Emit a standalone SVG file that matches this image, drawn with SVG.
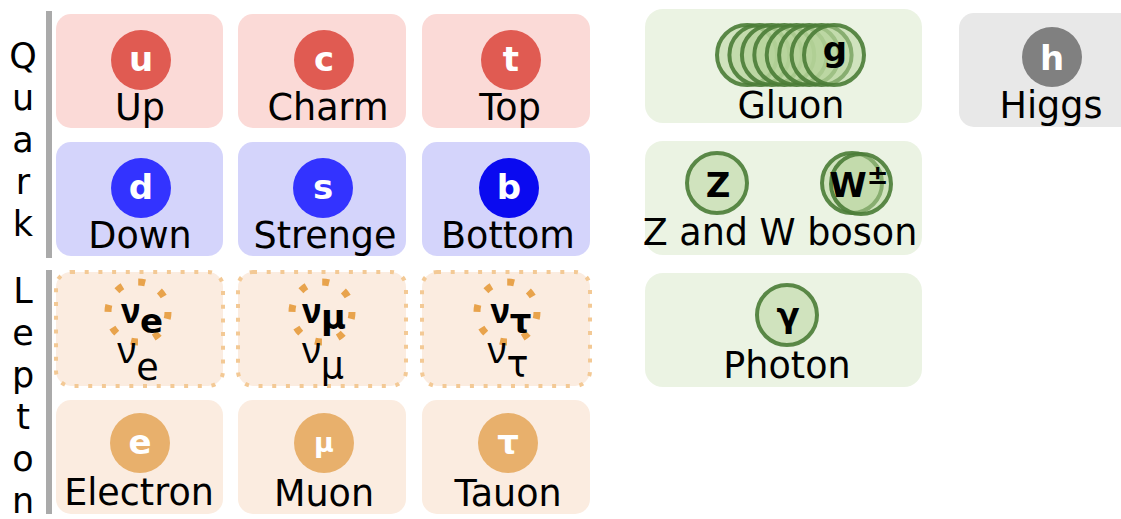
<svg xmlns="http://www.w3.org/2000/svg" width="1121" height="519" viewBox="0 0 1121 519">
<style>
text{font-family:"DejaVu Sans","Liberation Sans",sans-serif;fill:#000}
.lbl{font-size:36.5px;text-anchor:middle}
.sym{font-size:34px;font-weight:bold;text-anchor:middle;fill:#fff}
.bsym{font-size:34px;font-weight:bold;text-anchor:middle;fill:#000}
tspan.nu{font-family:"Noto Sans","Open Sans",sans-serif}
.side{font-size:35px;text-anchor:middle}
.up{fill:#fbdad7}
.down{fill:#d4d4fb}
.lep{fill:#fbece0}
.neu{fill:#fbece0;stroke:#f3c995;stroke-width:4;stroke-dasharray:4 9.7}
.bos{fill:#ebf3e3}
.hig{fill:#e8e8e8}
.cu{fill:#e05b52}
.cd{fill:#3333ff}
.cl{fill:#e8b06c}
.gc{fill:#b5d49a;fill-opacity:.5;stroke:#4a7c36;stroke-opacity:.9;stroke-width:4}
.ring{fill:none;stroke:#e8a34c;stroke-width:7;stroke-dasharray:7 16.56}
.bar{fill:#aaaaaa}
</style>
<g id="axis">
<rect class="bar" x="46" y="11" width="6" height="247"/>
<rect class="bar" x="46" y="270" width="6" height="244"/>
<text class="side" x="23" y="68">Q</text>
<text class="side" x="23" y="110">u</text>
<text class="side" x="23" y="152">a</text>
<text class="side" x="23" y="194">r</text>
<text class="side" x="23" y="236">k</text>
<text class="side" x="23" y="303">L</text>
<text class="side" x="23" y="345">e</text>
<text class="side" x="23" y="387">p</text>
<text class="side" x="23" y="429">t</text>
<text class="side" x="23" y="471">o</text>
<text class="side" x="23" y="513">n</text>
</g>
<g id="up"><rect class="up" x="56" y="14" width="167" height="114" rx="15"/><circle class="cu" cx="141" cy="60" r="30"/><text class="sym" x="141" y="71">u</text><text class="lbl" x="140" y="120">Up</text></g>
<g id="charm"><rect class="up" x="238" y="14" width="168" height="114" rx="15"/><circle class="cu" cx="324" cy="60" r="30"/><text class="sym" x="324" y="71">c</text><text class="lbl" x="328" y="120">Charm</text></g>
<g id="top"><rect class="up" x="422" y="14" width="168" height="114" rx="15"/><circle class="cu" cx="511" cy="60" r="30"/><text class="sym" x="511" y="71">t</text><text class="lbl" x="510" y="120">Top</text></g>
<g id="down"><rect class="down" x="56" y="142" width="167" height="114" rx="15"/><circle class="cd" cx="141" cy="188" r="30"/><text class="sym" x="141" y="199">d</text><text class="lbl" x="140" y="248">Down</text></g>
<g id="strange"><rect class="down" x="238" y="142" width="168" height="114" rx="15"/><circle class="cd" cx="323" cy="188" r="30"/><text class="sym" x="323" y="199">s</text><text class="lbl" x="325" y="248">Strenge</text></g>
<g id="bottom"><rect class="down" x="422" y="142" width="168" height="114" rx="15"/><circle cx="509" cy="188" r="30" fill="#0a0af0"/><text class="sym" x="509" y="199">b</text><text class="lbl" x="508" y="248">Bottom</text></g>
<g id="nu_e"><rect class="neu" x="56" y="272" width="167" height="114" rx="15"/><circle class="ring" cx="138" cy="312" r="30"/><text class="bsym" x="142" y="323"><tspan class="nu">ν</tspan><tspan dy="10">e</tspan></text><text class="lbl" x="138" y="363"><tspan class="nu">ν</tspan><tspan dy="17">e</tspan></text></g>
<g id="nu_mu"><rect class="neu" x="238" y="272" width="168" height="114" rx="15"/><circle class="ring" cx="322" cy="312" r="30"/><text class="bsym" x="324" y="323"><tspan class="nu">ν</tspan><tspan dy="6">μ</tspan></text><text class="lbl" x="323" y="363"><tspan class="nu">ν</tspan><tspan dy="15">μ</tspan></text></g>
<g id="nu_tau"><rect class="neu" x="422" y="272" width="168" height="114" rx="15"/><circle class="ring" cx="507" cy="312" r="30"/><text class="bsym" x="511" y="323"><tspan class="nu">ν</tspan><tspan dy="10">τ</tspan></text><text class="lbl" x="508" y="363"><tspan class="nu">ν</tspan><tspan dy="14">τ</tspan></text></g>
<g id="electron"><rect class="lep" x="56" y="400" width="167" height="114" rx="15"/><circle class="cl" cx="140" cy="443" r="30"/><text class="sym" x="140" y="454">e</text><text class="lbl" x="139" y="505">Electron</text></g>
<g id="muon"><rect class="lep" x="238" y="400" width="168" height="114" rx="15"/><circle class="cl" cx="324" cy="443" r="30"/><text class="sym" x="324" y="452" style="font-size:27px">μ</text><text class="lbl" x="324" y="506">Muon</text></g>
<g id="tauon"><rect class="lep" x="422" y="400" width="168" height="114" rx="15"/><circle class="cl" cx="508" cy="443" r="30"/><text class="sym" x="508" y="454">τ</text><text class="lbl" x="508" y="506">Tauon</text></g>
<g id="gluon"><rect class="bos" x="645" y="9" width="277" height="114" rx="18"/>
<circle class="gc" cx="747" cy="55" r="30"/><circle class="gc" cx="759.4" cy="55" r="30"/><circle class="gc" cx="771.9" cy="55" r="30"/><circle class="gc" cx="784.3" cy="55" r="30"/><circle class="gc" cx="796.7" cy="55" r="30"/><circle class="gc" cx="809.1" cy="55" r="30"/><circle class="gc" cx="821.6" cy="55" r="30"/><circle class="gc" cx="834" cy="55" r="30"/>
<text class="bsym" x="835" y="61">g</text><text class="lbl" x="791" y="118">Gluon</text></g>
<g id="zw"><rect class="bos" x="645" y="141" width="277" height="114" rx="18"/>
<circle class="gc" cx="717" cy="183" r="30"/><text class="bsym" x="718" y="197">Z</text>
<circle class="gc" cx="852" cy="183" r="30"/><circle class="gc" cx="861" cy="184" r="30"/><text class="bsym" x="859" y="197">W<tspan dy="-13" style="font-size:26px">±</tspan></text>
<text class="lbl" x="780" y="245">Z and W boson</text></g>
<g id="photon"><rect class="bos" x="645" y="273" width="277" height="114" rx="18"/><circle class="gc" cx="787" cy="315" r="30"/><text class="bsym" x="788" y="327">γ</text><text class="lbl" x="787" y="378">Photon</text></g>
<g id="higgs"><rect class="hig" x="959" y="13" width="180" height="114" rx="15"/><circle cx="1052" cy="57" r="30" fill="#808080"/><text class="sym" x="1052" y="70">h</text><text class="lbl" x="1051" y="118">Higgs</text></g>
<g id="connectors"/>
</svg>
